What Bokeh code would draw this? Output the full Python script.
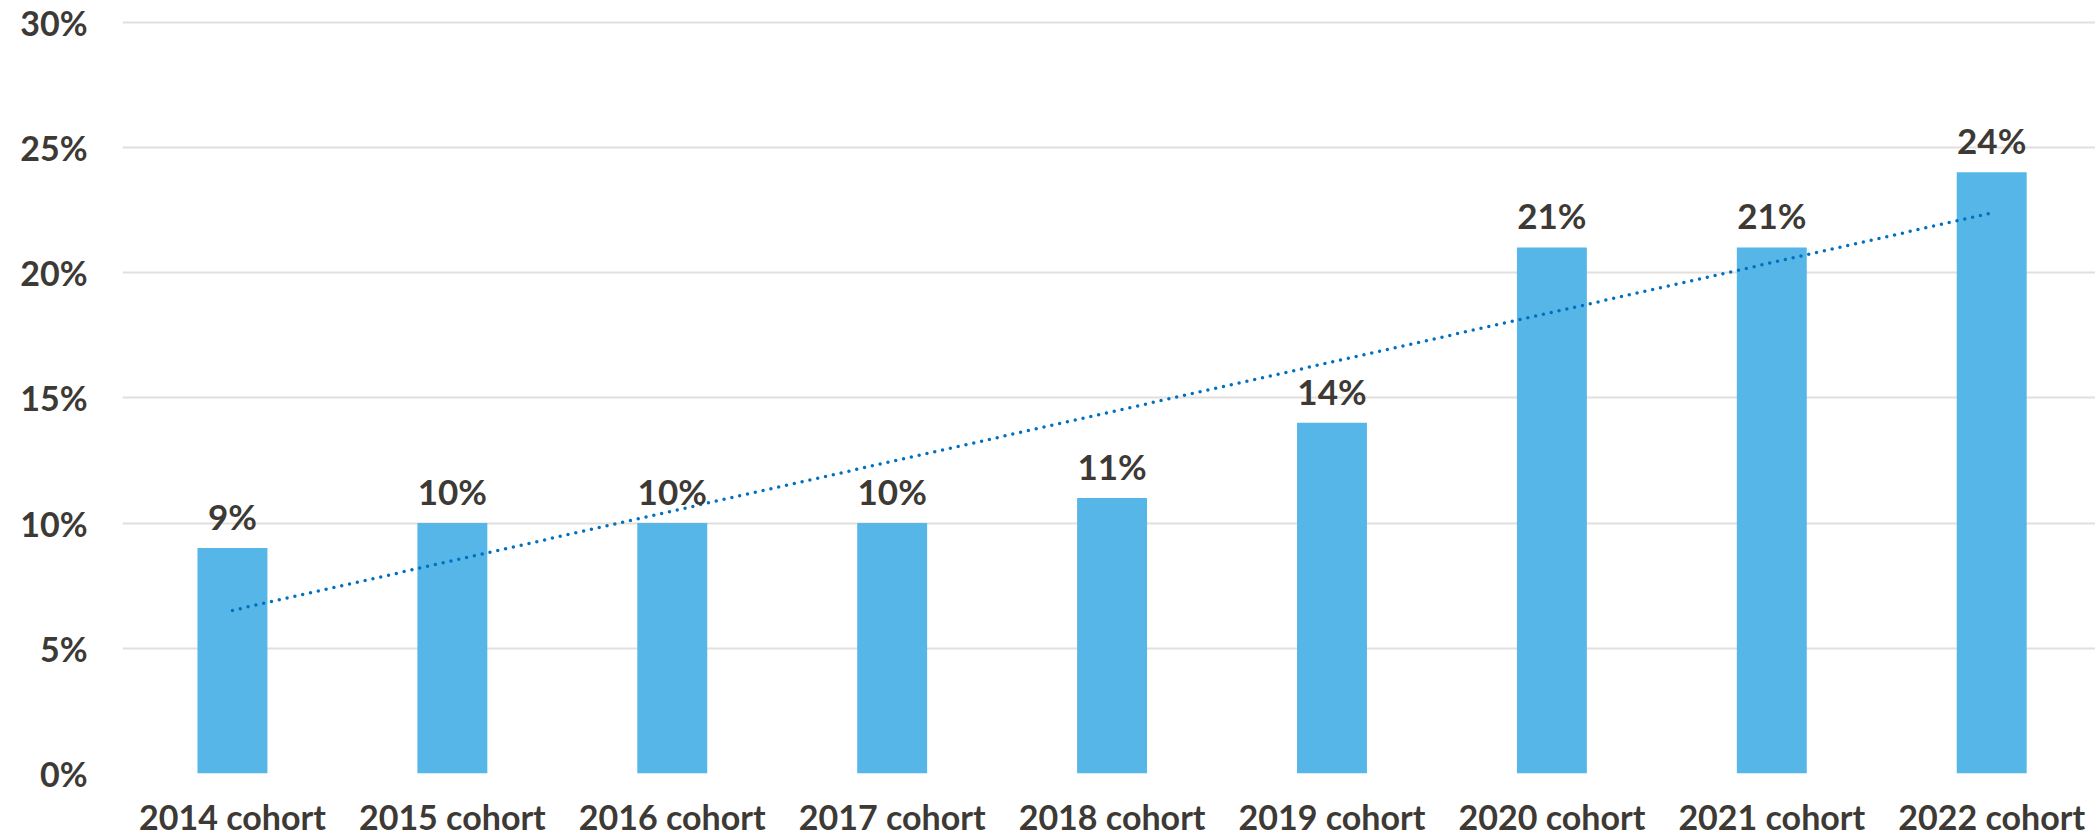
import numpy as np
from bokeh.plotting import figure
from bokeh.models import ColumnDataSource, Range1d, FixedTicker
from bokeh.core.properties import value
from bokeh.embed import file_html
from bokeh.resources import INLINE

categories = ["2014 cohort", "2015 cohort", "2016 cohort", "2017 cohort", "2018 cohort",
              "2019 cohort", "2020 cohort", "2021 cohort", "2022 cohort"]
values = [9, 10, 10, 10, 11, 14, 21, 21, 24]
y_ticks = [0, 5, 10, 15, 20, 25, 30]
y_tick_labels = ["0%", "5%", "10%", "15%", "20%", "25%", "30%"]

idx = list(range(len(categories)))
labels = [f"{v}%" for v in values]
slope, intercept = np.polyfit(idx, values, 1)
trend = [slope * i + intercept for i in idx]

FONT = "Lato"
TXT = "#3d3935"

p = figure(width=2095, height=839, output_backend="svg", toolbar_location=None,
           x_range=Range1d(-0.5, 8.472), y_range=Range1d(0, 30.3),
           min_border_left=122, min_border_right=0, min_border_top=14, min_border_bottom=0)
p.outline_line_color = None
p.background_fill_color = "white"
p.border_fill_color = "white"

src = ColumnDataSource(dict(x=idx, top=values, label=labels))
p.vbar(x="x", top="top", width=0.318, bottom=0, source=src, fill_color="#55b6e7", line_color=None)
p.line(idx, trend, line_color="#0070c0", line_width=3.5, line_dash="0 8", line_cap="round")
p.text(x="x", y="top", text="label", source=src, text_align="center", text_baseline="alphabetic",
       y_offset=-32, text_font=value(FONT), text_font_style="bold", text_font_size="35px",
       text_color=TXT)

p.xaxis.ticker = FixedTicker(ticks=idx)
p.xaxis.major_label_overrides = {i: c for i, c in zip(idx, categories)}
p.yaxis.ticker = FixedTicker(ticks=y_ticks)
p.yaxis.major_label_overrides = {t: l for t, l in zip(y_ticks, y_tick_labels)}

for ax in (p.xaxis, p.yaxis):
    ax.axis_line_color = None
    ax.major_tick_line_color = None
    ax.minor_tick_line_color = None
    ax.major_tick_out = 0
    ax.major_tick_in = 0
    ax.minor_tick_out = 0
    ax.minor_tick_in = 0
    ax.major_label_text_font = FONT
    ax.major_label_text_font_style = "bold"
    ax.major_label_text_font_size = "34px"
    ax.major_label_text_color = TXT
p.xaxis.major_label_standoff = 22
p.yaxis.major_label_standoff = 35

p.xgrid.grid_line_color = None
p.ygrid.grid_line_color = "#e3dfdc"
p.ygrid.grid_line_width = 2

open("out.html", "w").write(file_html(p, INLINE))
